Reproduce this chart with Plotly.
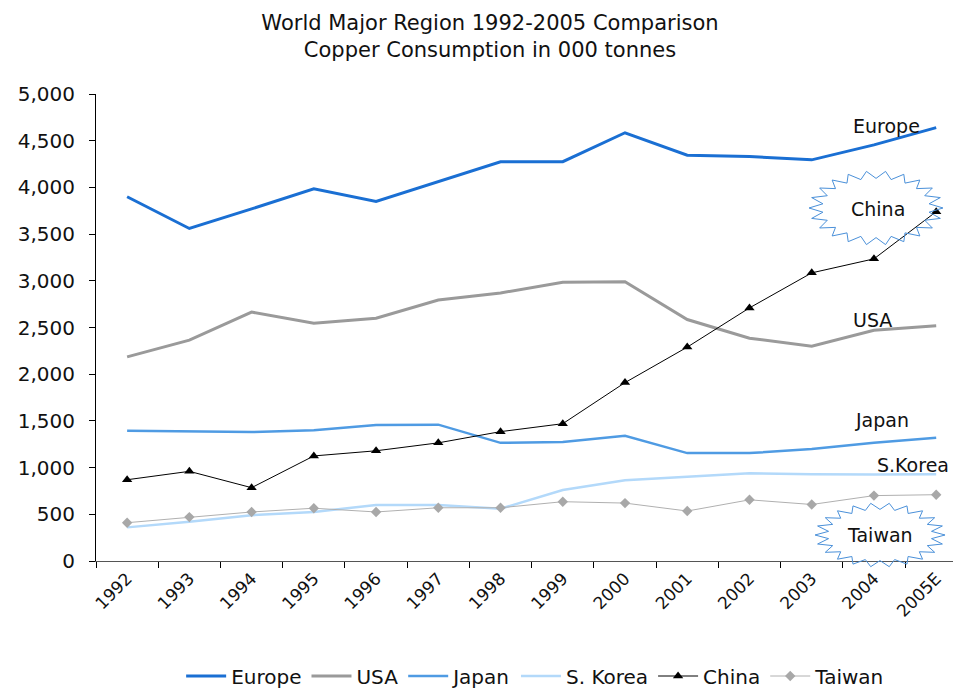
import math
import plotly.graph_objects as go

years = ["1992", "1993", "1994", "1995", "1996", "1997", "1998",
         "1999", "2000", "2001", "2002", "2003", "2004", "2005E"]

europe = [3900, 3560, 3770, 3985, 3850, 4060, 4275, 4275, 4585, 4345, 4330, 4295, 4455, 4640]
usa = [2185, 2365, 2665, 2545, 2600, 2795, 2870, 2985, 2990, 2585, 2385, 2300, 2470, 2520]
japan = [1395, 1385, 1380, 1400, 1455, 1460, 1265, 1275, 1340, 1155, 1155, 1200, 1265, 1320]
skorea = [360, 420, 490, 525, 600, 600, 560, 760, 865, 900, 940, 930, 925, 930]
china = [870, 960, 785, 1125, 1180, 1265, 1385, 1470, 1910, 2290, 2710, 3085, 3235, 3740]
taiwan = [410, 470, 525, 565, 525, 570, 570, 635, 620, 535, 655, 605, 700, 710]

y_ticks = [0, 500, 1000, 1500, 2000, 2500, 3000, 3500, 4000, 4500, 5000]

FONT = "DejaVu Sans"
W, H = 953, 689
L, R, T, B = 96, 0, 94, 128
PW, PH = W - L - R, H - T - B


def px2paper(px, py):
    return (px - L) / PW, (H - B - py) / PH


def star_path(cx, cy, rx, ry, n=22):
    pts = []
    for i in range(2 * n):
        a = math.pi * i / n
        r = 1.0 if i % 2 == 0 else 0.8
        x, y = px2paper(cx + rx * r * math.cos(a), cy + ry * r * math.sin(a))
        pts.append((x, y))
    return "M " + " L ".join(f"{x:.4f},{y:.4f}" for x, y in pts) + " Z"


fig = go.Figure()
fig.add_trace(go.Scatter(x=years, y=europe, name="Europe", mode="lines",
                         line=dict(color="#1a6fd3", width=3)))
fig.add_trace(go.Scatter(x=years, y=usa, name="USA", mode="lines",
                         line=dict(color="#9a9a9a", width=3)))
fig.add_trace(go.Scatter(x=years, y=japan, name="Japan", mode="lines",
                         line=dict(color="#4f9be3", width=2.5)))
fig.add_trace(go.Scatter(x=years, y=skorea, name="S. Korea", mode="lines",
                         line=dict(color="#b3d9fa", width=2.5)))
fig.add_trace(go.Scatter(x=years, y=china, name="China", mode="lines+markers",
                         line=dict(color="#000000", width=1),
                         marker=dict(symbol="triangle-up", size=9, color="#000000")))
fig.add_trace(go.Scatter(x=years, y=taiwan, name="Taiwan", mode="lines+markers",
                         line=dict(color="#b0b0b0", width=1),
                         marker=dict(symbol="diamond", size=8, color="#a8a8a8")))

shapes = [
    dict(type="path", xref="paper", yref="paper", path=star_path(876, 208, 67, 37),
         line=dict(color="#4a90d9", width=1), fillcolor="rgba(255,255,255,0)"),
    dict(type="path", xref="paper", yref="paper", path=star_path(880, 535, 65, 32),
         line=dict(color="#4a90d9", width=1), fillcolor="rgba(255,255,255,0)"),
]

labels = [("Europe", 886, 126, "center"), ("China", 878, 209, "center"),
          ("USA", 872, 320, "center"), ("Japan", 882, 420, "center"),
          ("S.Korea", 951, 465, "right"), ("Taiwan", 880, 535, "center")]
annotations = []
for txt, lx, ly, anc in labels:
    ax_, ay_ = px2paper(lx, ly)
    annotations.append(dict(text=txt, x=ax_, y=ay_, xref="paper", yref="paper",
                            showarrow=False, xanchor=anc, yanchor="middle",
                            font=dict(family=FONT, size=19, color="#111111")))

fig.update_layout(
    width=W, height=H,
    margin=dict(l=L, r=R, t=T, b=B, autoexpand=False),
    paper_bgcolor="white", plot_bgcolor="white",
    title=dict(text="World Major Region 1992-2005 Comparison<br>Copper Consumption in 000 tonnes",
               x=490 / W, xanchor="center", y=1 - 30 / H, yanchor="middle",
               font=dict(family=FONT, size=21, color="#111111")),
    showlegend=True,
    legend=dict(orientation="h", x=0.513, xanchor="center", y=px2paper(0, 676)[1],
                yanchor="middle", font=dict(family=FONT, size=20, color="#111111"),
                itemwidth=40, tracegroupgap=0),
    shapes=shapes,
    annotations=annotations,
)

fig.update_xaxes(type="category", range=[-0.5, 13.27], tickson="boundaries",
                 ticks="outside", ticklen=6, tickcolor="#000000",
                 showline=True, linecolor="#555555", linewidth=1,
                 showgrid=False, zeroline=False, tickangle=-45,
                 tickfont=dict(family=FONT, size=17, color="#111111"))
fig.update_yaxes(range=[0, 5000], tickvals=y_ticks, tickformat=",",
                 ticks="outside", ticklen=6, tickcolor="#000000",
                 showline=True, linecolor="#000000", linewidth=1,
                 showgrid=False, zeroline=False, ticklabelstandoff=10,
                 tickfont=dict(family=FONT, size=20, color="#111111"))

fig.write_html("out.html", config={"displayModeBar": False},
               post_script="document.body.style.margin='0';document.body.style.overflow='hidden';")
